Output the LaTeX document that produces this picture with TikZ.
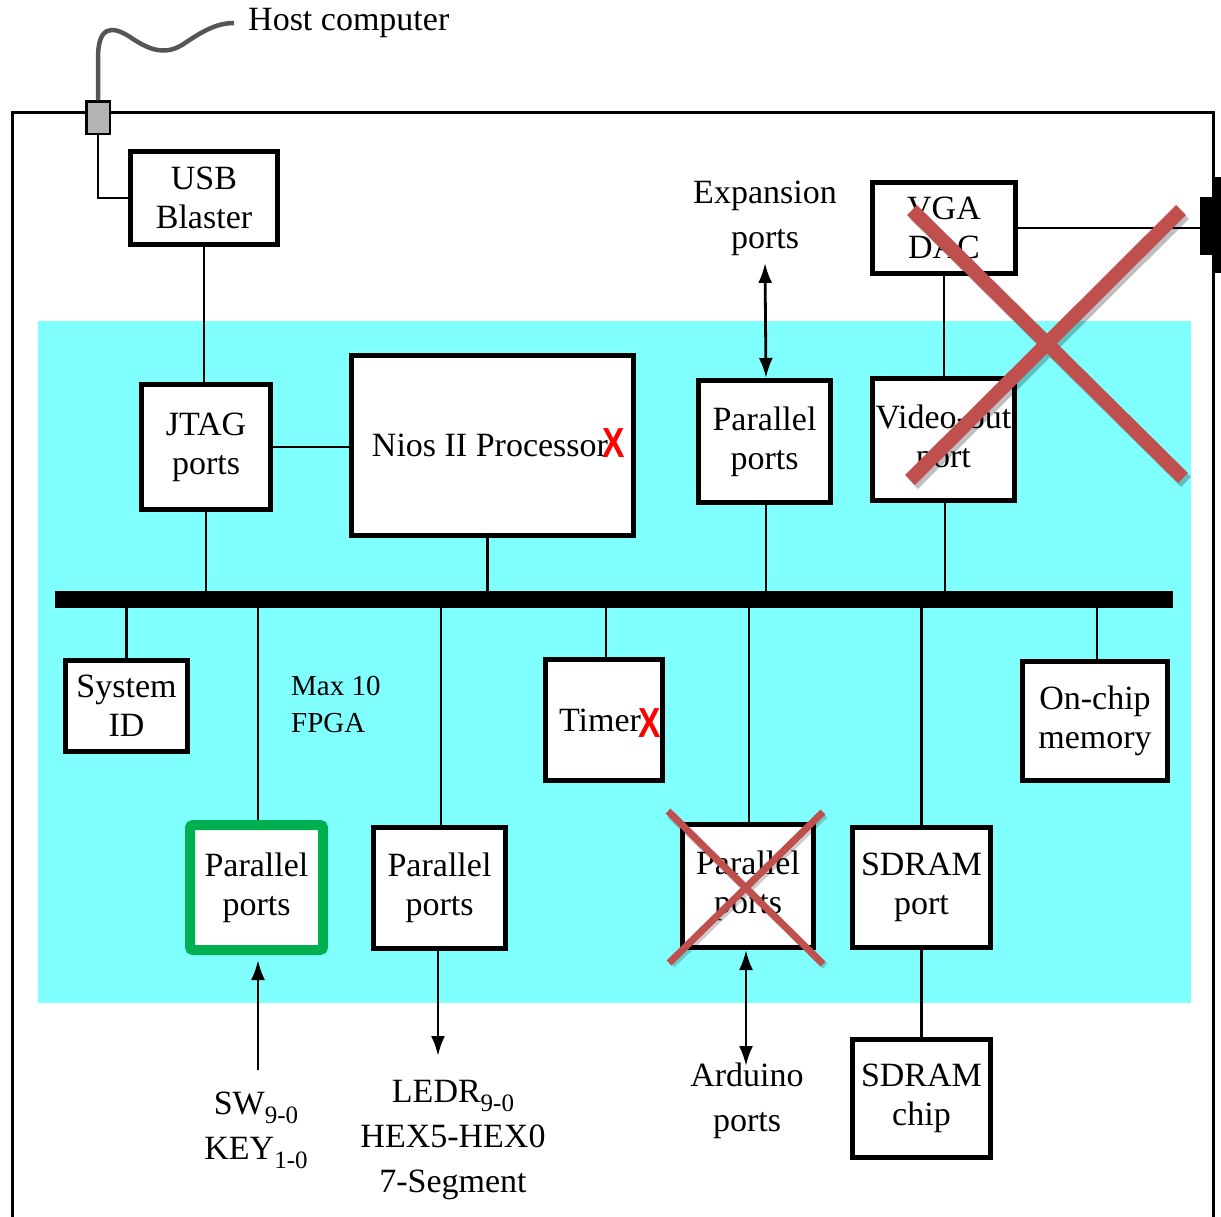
\documentclass[tikz,border=0pt]{standalone}
\usepackage{fontspec}
\setmainfont{Liberation Serif}
\newfontfamily\xfont{Liberation Sans}
\usetikzlibrary{arrows.meta}
\definecolor{cyanbg}{HTML}{80FFFF}
\definecolor{xred}{HTML}{C0504D}
\definecolor{gbox}{HTML}{00B050}
\definecolor{usbgray}{HTML}{B3B3B3}
\definecolor{cablegray}{HTML}{555555}
\newcommand{\sbs}[1]{\raisebox{-0.26em}{\fontsize{25}{25}\selectfont #1}}
\begin{document}
\begin{tikzpicture}[x=1pt,y=-1pt,
  font=\fontsize{34}{39}\selectfont,
  box/.style={draw, line width=5pt, fill=white, align=center, inner sep=0pt},
  gbx/.style={draw=gbox, line width=10pt, fill=white, align=center, inner sep=0pt, rounded corners=3pt},
  wire/.style={line width=2.8pt},
  lbl/.style={align=center, font=\fontsize{34}{45}\selectfont},
  tip/.style={-{Latex[length=20pt,width=14pt]}},
  dtip/.style={{Latex[length=20pt,width=14pt]}-{Latex[length=20pt,width=14pt]}},
  redx/.style={text=red, inner sep=0pt, font=\xfont\bfseries\fontsize{42}{42}\selectfont},
  bigcross/.style={xred, line width=14pt},
  smallcross/.style={xred, line width=7pt}
]
\useasboundingbox (0,0) rectangle (1221,1217);
\clip (0,0) rectangle (1221,1217);

% FPGA region
\fill[cyanbg] (38,321) rectangle (1191,1003);

% board outline
\draw[line width=3pt] (12,1240) -- (12,113) -- (1213,113) -- (1213,1240);

% VGA plug on right edge
\fill[black] (1213,177) rectangle (1225,273);
\node[fill=black, inner sep=0pt, minimum width=25pt, minimum height=58pt] (vgaplug) at (1212.5,226) {};

% USB connector and cable
\node[draw, fill=usbgray, line width=2.5pt, minimum width=23.5pt, minimum height=32.5pt, inner sep=0pt] (usbc) at (98,118) {};
\node[anchor=west, inner sep=0pt, font=\fontsize{34}{39}\selectfont] (host) at (248,23) {Host computer};
\coordinate (cableend) at (234,23);
\draw[cablegray, line width=4.5pt] (usbc.north) -- (98,58)
  .. controls (98,28) and (110,24) .. (130,37)
  .. controls (145,47) and (162,57) .. (182,45)
  .. controls (200,33) and (215,23) .. (cableend);

% boxes
\node[box, minimum width=147pt, minimum height=93pt] (usb) at (204,198) {USB\\Blaster};
\node[box, minimum width=129pt, minimum height=125pt] (jtag) at (206,447) {JTAG\\ports};
\node[box, minimum width=282pt, minimum height=180pt] (nios) at (492.5,445.5) {\hspace*{-5pt}Nios II Processor};
\node[box, minimum width=132pt, minimum height=122pt] (parexp) at (764.5,441.5) {Parallel\\ports};
\node[box, minimum width=143pt, minimum height=91pt] (vga) at (944,228) {VGA\\DAC};
\node[box, minimum width=142pt, minimum height=122pt] (video) at (943.5,439.5) {Video-out\\port};

\node[fill=black, inner sep=0pt, minimum width=1118pt, minimum height=17pt] (bus) at (614,599.5) {};

\node[box, minimum width=122pt, minimum height=91pt] (sysid) at (126.5,706) {System\\ID};
\node[box, minimum width=117pt, minimum height=121pt] (timer) at (604,720) {\hspace*{-8pt}Timer};
\node[box, minimum width=145pt, minimum height=119pt] (onchip) at (1095,721) {On-chip\\memory};
\node[gbx, minimum width=133pt, minimum height=125pt] (green) at (256.5,887.5) {Parallel\\ports};
\node[box, minimum width=132pt, minimum height=121pt] (par2) at (439.5,888) {Parallel\\ports};
\node[box, minimum width=131pt, minimum height=123pt] (parx) at (748,886) {Parallel\\ports};
\node[box, minimum width=138pt, minimum height=120pt] (sdport) at (921.5,887.5) {SDRAM\\port};
\node[box, minimum width=138pt, minimum height=118pt] (sdchip) at (921.5,1098.5) {SDRAM\\chip};

% red X glyphs
\node[redx] (niosx) at (614,443) {\scalebox{0.8}[1]{X}};
\node[redx] (timerx) at (650,723) {\scalebox{0.8}[1]{X}};

% labels
\node[lbl] (expl) at (765,218) {Expansion\\ports};
\node[align=left, anchor=west, inner sep=0pt, font=\fontsize{29}{37}\selectfont] (fpga) at (291,704) {Max 10\\FPGA};
\node[lbl] (swl) at (256,1130) {SW\sbs{9-0}\\KEY\sbs{1-0}};
\node[lbl] (ledl) at (453,1140) {LEDR\sbs{9-0}\\HEX5-HEX0\\7-Segment};
\node[lbl] (ardl) at (747,1101) {Arduino\\ports};

% wires
\draw[wire] (usbc.south) |- (usb.west);
\draw[wire] (usb.south) -- (usb.south |- jtag.north);
\draw[wire] (jtag.east) -- (jtag.east -| nios.west);
\draw[wire] (jtag.south) -- (jtag.south |- bus.north);
\draw[wire] ([xshift=-5pt]nios.south) -- ([xshift=-5pt]nios.south |- bus.north);
\draw[wire] ([xshift=1.5pt]parexp.south) -- ([xshift=1.5pt]parexp.south |- bus.north);
\draw[wire] (vga.east) -- (vga.east -| vgaplug.west);
\draw[wire] (vga.south) -- (vga.south |- video.north);
\draw[wire] ([xshift=1.5pt]video.south) -- ([xshift=1.5pt]video.south |- bus.north);
\draw[wire, dtip] ([yshift=-4pt]expl.south) -- ([xshift=1.5pt]parexp.north);

\draw[wire] (sysid.north) -- (sysid.north |- bus.south);
\draw[wire] ([xshift=1.5pt]green.north) -- ([xshift=1.5pt]green.north |- bus.south);
\draw[wire] ([xshift=1.5pt]par2.north) -- ([xshift=1.5pt]par2.north |- bus.south);
\draw[wire] ([xshift=2pt]timer.north) -- ([xshift=2pt]timer.north |- bus.south);
\draw[wire] ([xshift=1pt]parx.north) -- ([xshift=1pt]parx.north |- bus.south);
\draw[wire] (sdport.north) -- (sdport.north |- bus.south);
\draw[wire] ([xshift=2pt]onchip.north) -- ([xshift=2pt]onchip.north |- bus.south);
\draw[wire] (sdport.south) -- (sdchip.north);

\coordinate (swtop) at (258,1070);
\coordinate (ledbot) at (438,1056);
\coordinate (ardtop) at (746,1066);
\draw[wire, tip] (swtop) -- ([xshift=1.5pt,yshift=-5pt]green.south);
\draw[wire, tip] ([xshift=-1.5pt]par2.south) -- (ledbot);
\draw[wire, dtip] ([xshift=-2pt]parx.south) -- (ardtop);

% crosses
\draw[black, opacity=0.25, line width=14pt] (915,214) -- (1186,482) (1184,214) -- (913,484);
\draw[bigcross] (912,210) -- (1183,478) (1181,210) -- (910,480);
\draw[black, opacity=0.2, line width=7pt] (670,815) -- (825,966) (825,815) -- (672,965);
\draw[smallcross] (668,811) -- (823,964) (823,812) -- (669,963);
\end{tikzpicture}
\end{document}
